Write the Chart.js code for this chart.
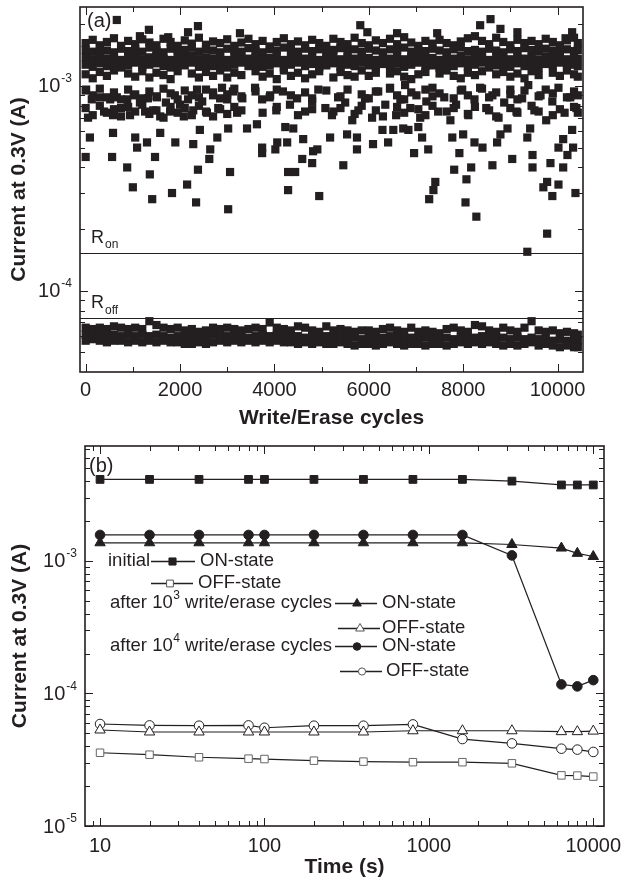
<!DOCTYPE html>
<html>
<head>
<meta charset="utf-8">
<title>Current at 0.3V</title>
<script src="https://cdn.jsdelivr.net/npm/chart.js@4.4.1/dist/chart.umd.min.js"></script>
<style>
  body { margin: 0; background: #fff; }
  .panel { position: absolute; left: 0; }
</style>
</head>
<body>
<div class="panel" style="top:0"><canvas id="chart_a" width="621" height="432"></canvas></div>
<div class="panel" style="top:432px"><canvas id="chart_b" width="621" height="450"></canvas></div>
<script>
// ---------- (a) endurance : current read at 0.3 V vs. write/erase cycle ----------
// the dense bands are read column by column (one column every 150 cycles), null = hole
const cycles = [0,150,300,450,600,750,900,1050,1200,1350,1500,1650,1800,1950,2100,2250,2400,2550,2700,2850,
  3000,3150,3300,3450,3600,3750,3900,4050,4200,4350,4500,4650,4800,4950,5100,5250,5400,5550,5700,5850,
  6000,6150,6300,6450,6600,6750,6900,7050,7200,7350,7500,7650,7800,7950,8100,8250,8400,8550,8700,8850,
  9000,9150,9300,9450,9600,9750,9900,10050,10200,10350,10430];

// ON state, upper band, mA
const onRow1 = [1.62,1.68,1.58,1.64,1.71,1.57,1.66,1.60,1.69,1.63, 1.58,1.70,1.64,1.57,1.67,1.61,1.72,1.59,1.65,1.62,
  1.69,1.57,1.63,1.70,1.60,1.66,1.56,1.64,1.71,1.60, 1.65,1.58,1.68,1.62,1.57,1.70,1.64,1.60,1.72,1.62,
  1.58,1.67,1.62,1.70,1.60,1.73,1.63,1.57,1.66,1.61, 1.68,1.62,1.58,1.65,1.71,1.75,1.66,1.60,1.72,1.64,
  1.58,1.68,1.62,1.66,1.60,1.70,1.64,1.58,1.67,1.72,1.62];
const onRow2 = [1.50,1.47,1.53,1.49,1.46,1.52,1.48,1.51,1.47,1.54, 1.49,1.46,1.52,1.48,1.50,1.54,1.47,1.51,1.49,1.46,
  1.52,1.50,1.47,1.53,1.48,1.46,1.51,1.49,1.54,1.50, 1.47,1.52,1.48,1.51,1.46,1.50,1.53,1.48,1.51,1.47,
  1.52,1.49,1.46,1.51,1.50,1.54,1.47,1.50,1.48,1.52, 1.49,1.46,1.51,1.54,1.48,1.50,1.47,1.52,1.49,1.46,
  1.51,1.48,1.53,1.50,1.47,1.52,1.49,1.46,1.51,1.48,1.50];
const onRow3 = [1.38,1.35,1.40,1.36,1.39,1.34,1.37,1.41,1.35,1.38, 1.40,1.36,1.34,1.39,1.37,1.41,1.35,1.38,1.36,1.40,
  1.34,1.38,1.41,1.36,1.39,1.35,1.37,1.40,1.34,1.38, 1.41,1.36,1.39,1.34,1.37,1.40,1.35,1.38,1.36,1.41,
  1.37,1.34,1.39,1.36,1.40,1.35,1.38,1.41,1.36,1.37, 1.34,1.39,1.36,1.40,1.35,1.38,1.41,1.34,1.37,1.39,
  1.35,1.40,1.36,1.38,1.34,1.39,1.37,1.41,1.35,1.38,1.36];
const onRow4 = [1.27,1.24,1.29,1.25,1.28,1.23,1.26,1.30,1.24,1.27, 1.29,1.25,1.23,1.28,1.26,1.30,1.24,1.27,1.25,1.29,
  1.23,1.27,1.30,1.25,1.28,1.24,1.26,1.29,1.23,1.27, 1.30,1.25,1.28,1.23,1.26,1.29,1.24,1.27,1.25,1.30,
  1.26,1.23,1.28,1.25,1.29,1.24,1.27,1.30,1.25,1.26, 1.23,1.28,1.25,1.29,1.24,1.27,1.30,1.23,1.26,1.28,
  1.24,1.29,1.25,1.27,1.23,1.28,1.26,1.30,1.24,1.27,1.25];
const onRow5 = [1.14,1.09,1.17,1.12,1.19,null,1.15,1.11,1.18,1.10, 1.16,1.13,1.08,1.18,null,1.15,1.10,1.17,1.12,1.19,
  1.10,1.16,1.13,null,1.18,1.11,1.15,1.08,1.19,1.12, 1.16,1.09,1.14,1.18,null,1.10,1.17,1.13,1.11,1.19,
  1.12,1.16,null,1.15,1.18,1.11,1.08,1.14,1.17,null, 1.15,1.19,1.12,1.09,1.16,1.13,1.18,null,1.14,1.17,
  1.11,1.15,1.09,1.18,1.13,null,1.16,1.12,1.19,1.14,1.11];
// ON state, lower (patchy) band, mA
const onRow6 = [0.95,0.90,0.97,0.88,0.93,0.86,0.96,0.91,0.87,0.94, 0.89,0.97,0.92,0.86,0.95,0.90,0.88,0.96,0.93,0.87,
  0.91,0.97,0.89,null,0.94,null,0.88,0.96,null,0.90, null,0.93,0.87,null,0.95,null,0.89,0.96,null,0.91,
  0.87,0.94,null,0.97,0.90,0.86,0.93,null,0.96,0.89, 0.92,null,0.87,0.95,0.90,null,0.97,0.88,0.93,null,
  0.91,0.86,0.95,null,0.89,0.96,0.92,null,0.88,0.94,0.90];
const onRow7 = [0.78,0.72,0.80,0.74,0.77,0.71,0.79,0.75,0.81,0.73, 0.76,0.70,0.79,0.74,0.78,0.72,0.80,0.75,0.71,0.77,
  0.73,0.79,0.76,null,null,0.74,null,0.79,null,null, 0.72,null,0.77,null,null,0.75,0.78,null,0.73,0.80,
  null,0.76,0.71,null,0.79,0.74,null,0.77,0.72,0.80, null,0.75,0.78,null,0.73,0.79,null,0.76,0.71,null,
  0.78,0.74,null,0.80,0.75,null,0.72,0.77,null,0.79,0.74];

// OFF state band, uA
const offRow1 = [66,65,66,65,67,66,65,66,65,71, 68,66,65,66,64,65,63,64,66,65, 66,65,64,65,66,65,70,66,65,64,
  67,66,64,63,67,64,65,64,63,64, 64,63,65,66,64,63,66,63,64,63, 62,65,66,64,63,68,67,64,63,66,
  64,63,66,71,64,63,64,62,63,62,61];
const offRow2 = [61,60,61,60,61,60,61,60,61,60, 61,60,59,60,59,60,59,60,61,60, 60,61,60,59,60,61,60,61,60,59,
  60,59,60,59,60,59,60,59,59,58, 59,58,59,60,59,58,59,58,59,58, 58,59,58,59,58,59,60,59,58,59,
  58,59,58,59,58,58,57,58,57,57,57];
const offRow3 = [57,58,57,56,57,57,56,57,56,57, 56,57,56,56,55,55,56,55,56,57, 56,57,56,57,56,57,56,57,56,56,
  55,56,55,56,55,55,56,55,54,55, 55,54,55,56,55,54,55,55,54,55, 55,54,55,56,55,56,55,56,55,54,
  55,54,55,56,54,55,54,53,54,53,53];

// ON state points lying away from the bands, mA
const onHighCycles  = [660,1150,1340,1750,2170,2380,3270,5820,5970,6600,7450,8360,8580,8790,9150,10170,10310];
const onHighCurrent = [2.10,1.75,1.88,1.73,1.83,1.96,1.81,1.98,1.83,1.81,1.81,1.98,2.12,1.90,1.83,1.71,1.83];

const onMidCycles = [10,50,130,300,390,520,580,660,750,880, 940,1020,1150,1260,1320,1430,1510,1580,1700,1790,
  1890,2000,2080,2170,2280,2360,2470,2570,2700,2810, 2890,3000,3120,3210,3320, 3590,3740,3910,4040,4180,
  4330,4480,4650,4800,4930, 5080,5220,5350,5500,5650,5780,5920,6070,6200,6350, 6450,6580,6670,6770,6880,
  7010,7090,7220,7350,7470, 7600,7730,7850,7980,8110,8240,8360,8490,8620,8750, 8870,9000,9130,9250,9380,
  9510,9640,9760,9890,10020, 10150,10270,10400];
const onMidCurrent = [0.96,0.70,0.86,0.88,0.75,0.86,0.72,0.88,0.78,0.86, 0.72,0.90,0.83,0.75,0.87,0.76,0.88,0.71,0.83,0.75,
  0.90,0.81,0.71,0.86,0.76,0.96,0.84,0.74,0.90,0.78, 0.98,0.86,0.94,0.74,0.87, 0.98,0.86,0.90,0.76,0.94,
  0.81,0.87,0.75,0.84,0.96, 0.78,0.72,0.88,0.83,0.68,0.76,0.87,0.70,0.94,0.81, 0.98,0.72,0.86,1.01,0.78,
  0.90,0.70,0.84,0.98,0.75, 0.88,0.68,0.81,0.96,0.72,0.86,0.98,0.78,0.90,0.70, 0.83,0.96,0.75,0.87,1.01,
  0.76,0.90,0.68,0.84,0.98, 0.74,0.88,0.78];

const onLowCycles = [0,90,560,580,880,1000,1050,1090,1300,1360, 1410,1470,1580,1830,1900,2150,2280,2340,2380,2420,
  2620,2640,2790,3020,3020,3060,3420,3630,3740,3740, 4020,4060,4230,4270,4290,4290,4400,4440,4590,4610,
  4800,4820,4910,4950,5180,5460,5540,5750,5750,6090, 6290,6410,6520,6730,6840,6960,7050,7130,7260,7410,
  7370,7280,7770,7920,8000,7810,8070,8050,8170,8240, 8280,8410,8620,8720,8790,8940,9040,9360,9420,9470,
  9470,9360,9780,9850,9780,9700,9890,10020,10120,10020, 10120,10210,10310,10330,10380];
const onLowCurrent = [0.45,0.56,0.45,0.59,0.40,0.32,0.56,0.50,0.53,0.37, 0.28,0.45,0.59,0.30,0.53,0.33,0.52,0.27,0.39,0.61,
  0.44,0.49,0.56,0.62,0.25,0.38,0.62,0.65,0.50,0.47, 0.49,0.53,0.63,0.53,0.38,0.31,0.62,0.38,0.44,0.55,
  0.42,0.48,0.49,0.29,0.56,0.41,0.58,0.56,0.49,0.52, 0.61,0.53,0.61,0.62,0.61,0.47,0.63,0.56,0.49,0.34,
  0.31,0.28,0.56,0.47,0.58,0.39,0.35,0.27,0.40,0.53, 0.23,0.50,0.41,0.53,0.58,0.62,0.44,0.56,0.62,0.46,
  0.40,0.155,0.19,0.42,0.34,0.32,0.29,0.33,0.40,0.50, 0.55,0.46,0.61,0.50,0.30];

const cycleTicks = [0, 2000, 4000, 6000, 8000, 10000];
const rOn = 1.53e-4;    // A
const rOff = 7.38e-5;   // A

// ---------- (b) retention at 0.3 V ----------
const times = [10, 20, 40, 80, 100, 200, 400, 800, 1600, 3200, 6400, 8000, 10000];
const initialOn  = [4.12e-3,4.12e-3,4.12e-3,4.12e-3,4.12e-3,4.12e-3,4.12e-3,4.12e-3,4.12e-3,4.0e-3,3.74e-3,3.74e-3,3.74e-3];
const initialOff = [3.57e-5,3.45e-5,3.30e-5,3.22e-5,3.20e-5,3.11e-5,3.06e-5,3.03e-5,3.03e-5,2.97e-5,2.41e-5,2.40e-5,2.36e-5];
const after1e3On  = [1.37e-3,1.37e-3,1.37e-3,1.37e-3,1.37e-3,1.37e-3,1.37e-3,1.37e-3,1.37e-3,1.33e-3,1.25e-3,1.14e-3,1.08e-3];
const after1e3Off = [5.30e-5,5.12e-5,5.12e-5,5.12e-5,5.12e-5,5.12e-5,5.12e-5,5.23e-5,5.23e-5,5.23e-5,5.15e-5,5.15e-5,5.20e-5];
const after1e4On  = [1.57e-3,1.57e-3,1.57e-3,1.57e-3,1.57e-3,1.57e-3,1.57e-3,1.57e-3,1.57e-3,1.10e-3,1.17e-4,1.13e-4,1.26e-4];
const after1e4Off = [5.88e-5,5.74e-5,5.71e-5,5.74e-5,5.51e-5,5.71e-5,5.71e-5,5.84e-5,4.53e-5,4.20e-5,3.83e-5,3.77e-5,3.62e-5];
const timeTicks = [10, 100, 1000, 10000];


const INK = '#231f20';
const FONT = "'Liberation Sans', Arial, sans-serif";
Chart.defaults.font.family = FONT;
Chart.defaults.color = INK;

function bandPoints(rows, unit) {
  const pts = [];
  rows.forEach(row => row.forEach((v, i) => {
    if (v !== null) pts.push({ x: cycles[i], y: v * unit });
  }));
  return pts;
}
function pairs(xs, ys, unit) {
  return xs.map((x, i) => ({ x: x, y: ys[i] * unit }));
}
function series(values) {
  return times.map((t, i) => ({ x: t, y: values[i] }));
}

function line(ctx, x1, y1, x2, y2) {
  ctx.beginPath(); ctx.moveTo(x1, y1); ctx.lineTo(x2, y2); ctx.stroke();
}
function logTicks(min, max) {
  const out = [];
  for (let e = Math.floor(Math.log10(min)); e <= Math.ceil(Math.log10(max)); e++) {
    for (let k = 1; k <= 9; k++) {
      const v = k * Math.pow(10, e);
      if (v >= min * 0.9999 && v <= max * 1.0001) out.push({ v: v, major: k === 1 });
    }
  }
  return out;
}
// inward ticks on all four sides + the box
function drawFrame(chart, xTicks, yTicks) {
  const { ctx, chartArea: a, scales } = chart;
  ctx.save();
  ctx.strokeStyle = INK;
  ctx.lineWidth = 1;
  xTicks.forEach(t => {
    const px = Math.round(scales.x.getPixelForValue(t.v)) + 0.5;
    const len = t.major ? 8 : 5;
    line(ctx, px, a.bottom, px, a.bottom - len);
    line(ctx, px, a.top, px, a.top + len);
  });
  yTicks.forEach(t => {
    const py = Math.round(scales.y.getPixelForValue(t.v)) + 0.5;
    const len = t.major ? 8 : 5;
    line(ctx, a.left, py, a.left + len, py);
    line(ctx, a.right, py, a.right - len, py);
  });
  ctx.lineWidth = 1.6;
  ctx.strokeRect(a.left, a.top, a.right - a.left, a.bottom - a.top);
  ctx.restore();
}
// 10^n labels with a raised exponent
function drawPowerLabels(chart, exps) {
  const { ctx, chartArea: a, scales } = chart;
  ctx.save();
  ctx.fillStyle = INK;
  ctx.textBaseline = 'middle';
  ctx.textAlign = 'left';
  exps.forEach(e => {
    const y = scales.y.getPixelForValue(Math.pow(10, e));
    const sup = String(e);
    ctx.font = '12px ' + FONT;
    const ws = ctx.measureText(sup).width;
    ctx.font = '20px ' + FONT;
    const wb = ctx.measureText('10').width;
    const right = a.left - 8;
    ctx.fillText('10', right - ws - 1 - wb, y + 1);
    ctx.font = '12px ' + FONT;
    ctx.fillText(sup, right - ws, y - 7);
  });
  ctx.restore();
}
function marker(ctx, style, x, y, r, fill, stroke) {
  ctx.beginPath();
  if (style === 'rect') {
    const s = r * Math.SQRT1_2;
    ctx.rect(x - s, y - s, 2 * s, 2 * s);
  } else if (style === 'circle') {
    ctx.arc(x, y, r, 0, Math.PI * 2);
  } else {
    ctx.moveTo(x, y - r);
    ctx.lineTo(x + r * 0.866, y + r / 2);
    ctx.lineTo(x - r * 0.866, y + r / 2);
    ctx.closePath();
  }
  ctx.fillStyle = fill; ctx.fill();
  ctx.strokeStyle = stroke; ctx.lineWidth = 1; ctx.stroke();
}
function fixBox(size) {
  return function (s) {
    if (s.isHorizontal()) s.height = size; else s.width = size;
    s.paddingLeft = s.paddingRight = s.paddingTop = s.paddingBottom = 0;
  };
}

// ---------- chart (a) ----------
const panelA = {
  id: 'panelA',
  beforeDatasetsDraw(chart) {
    const { ctx, chartArea: a, scales: { y } } = chart;
    ctx.save();
    ctx.strokeStyle = INK;
    ctx.lineWidth = 1.2;
    [rOn, rOff].forEach(v => {
      const py = Math.round(y.getPixelForValue(v)) + 0.5;
      line(ctx, a.left, py, a.right, py);
    });
    ctx.restore();
  },
  afterDraw(chart) {
    const { ctx, chartArea: a, scales: { y } } = chart;
    const xt = [];
    for (let v = 0; v <= 10000; v += 1000) xt.push({ v: v, major: v % 2000 === 0 });
    drawFrame(chart, xt, logTicks(y.min, y.max));
    drawPowerLabels(chart, [-3, -4]);

    ctx.save();
    ctx.fillStyle = INK;
    ctx.textBaseline = 'middle';
    ctx.textAlign = 'left';
    ctx.font = '20px ' + FONT;
    ctx.fillText('(a)', a.left + 7, a.top + 14);
    [[rOn, 'on', 8], [rOff, 'off', 7]].forEach(([v, sub, dy]) => {
      const py = y.getPixelForValue(v);
      ctx.font = '18px ' + FONT;
      ctx.fillText('R', a.left + 11, py - 15);
      const w = ctx.measureText('R').width;
      ctx.font = '12px ' + FONT;
      ctx.fillText(sub, a.left + 12 + w, py - dy);
    });
    ctx.restore();
  }
};

const squareStyle = {
  pointStyle: 'rect', pointRadius: 5.8, pointHoverRadius: 5.8,
  backgroundColor: INK, pointBackgroundColor: INK, borderWidth: 0, pointBorderWidth: 0
};

new Chart(document.getElementById('chart_a'), {
  type: 'scatter',
  data: {
    datasets: [
      { label: 'OFF', data: bandPoints([offRow1, offRow2, offRow3], 1e-6) },
      { label: 'ON band', data: bandPoints([onRow1, onRow2, onRow3, onRow4, onRow5, onRow6, onRow7], 1e-3) },
      { label: 'ON high', data: pairs(onHighCycles, onHighCurrent, 1e-3) },
      { label: 'ON middle', data: pairs(onMidCycles, onMidCurrent, 1e-3) },
      { label: 'ON low', data: pairs(onLowCycles, onLowCurrent, 1e-3) }
    ].map(d => Object.assign({}, squareStyle, d))
  },
  options: {
    responsive: false,
    animation: false,
    events: [],
    layout: { padding: { left: 0, right: 38, top: 7, bottom: 0 } },
    plugins: { legend: { display: false }, tooltip: { enabled: false } },
    scales: {
      x: {
        type: 'linear', min: -120, max: 10540, bounds: 'data',
        afterBuildTicks: s => { s.ticks = cycleTicks.map(v => ({ value: v })); },
        afterFit: fixBox(60),
        grid: { display: false, drawTicks: false },
        border: { display: false },
        ticks: { font: { size: 20 }, color: INK, padding: 6, maxRotation: 0, autoSkip: false, callback: v => String(v) },
        title: { display: true, text: 'Write/Erase cycles', color: INK, font: { size: 21, weight: 'bold' }, padding: { top: 0, bottom: 1 } }
      },
      y: {
        type: 'logarithmic', min: 4.01e-5, max: 2.43e-3, bounds: 'data',
        afterFit: fixBox(80),
        grid: { display: false, drawTicks: false },
        border: { display: false },
        ticks: { display: false },
        title: { display: true, text: 'Current at 0.3V (A)', color: INK, font: { size: 21, weight: 'bold' }, padding: { top: 7, bottom: 0 } }
      }
    }
  },
  plugins: [panelA]
});

// ---------- chart (b) ----------
const panelB = {
  id: 'panelB',
  afterDraw(chart) {
    const { ctx, chartArea: a, scales: { x, y } } = chart;
    drawFrame(chart, logTicks(x.min, x.max), logTicks(y.min, y.max));
    drawPowerLabels(chart, [-3, -4, -5]);

    ctx.save();
    ctx.fillStyle = INK;
    ctx.textBaseline = 'middle';
    ctx.textAlign = 'left';
    ctx.font = '20px ' + FONT;
    ctx.fillText('(b)', a.left + 4, a.top + 20);

    const rows = [
      { y: 129, head: ['initial'], hx: 108, dash: [151, 195], mx: 172.5, style: 'rect', r: 5, open: false, text: 'ON-state', tx: 200 },
      { y: 151, head: null, dash: [151, 193], mx: 170, style: 'rect', r: 4.8, open: true, text: 'OFF-state', tx: 198 },
      { y: 171, head: ['after 10', '3', ' write/erase cycles'], hx: 110, dash: [335, 377], mx: 357, style: 'triangle', r: 5, open: false, text: 'ON-state', tx: 382 },
      { y: 196, head: null, dash: [338, 380], mx: 360, style: 'triangle', r: 5, open: true, text: 'OFF-state', tx: 382 },
      { y: 214, head: ['after 10', '4', ' write/erase cycles'], hx: 110, dash: [335, 377], mx: 357, style: 'circle', r: 3.8, open: false, text: 'ON-state', tx: 382 },
      { y: 239, head: null, dash: [340, 382], mx: 362, style: 'circle', r: 3.6, open: true, text: 'OFF-state', tx: 386 }
    ];
    rows.forEach(row => {
      ctx.fillStyle = INK;
      if (row.head) {
        let hx = row.hx;
        row.head.forEach((part, i) => {
          const isSup = i === 1;
          ctx.font = (isSup ? '12px ' : '18.5px ') + FONT;
          ctx.fillText(part, hx, isSup ? row.y - 7 : row.y);
          hx += ctx.measureText(part).width + (isSup ? 0 : 0.5);
        });
      }
      ctx.strokeStyle = INK;
      ctx.lineWidth = 1.5;
      line(ctx, row.dash[0], row.y + 0.5, row.dash[1], row.y + 0.5);
      marker(ctx, row.style, row.mx, row.y + 0.5, row.r, row.open ? '#fff' : INK, row.open ? '#555' : INK);
      ctx.fillStyle = INK;
      ctx.font = '18.5px ' + FONT;
      ctx.fillText(row.text, row.tx, row.y);
    });
    ctx.restore();
  }
};

const lineBase = { borderColor: INK, borderWidth: 1.2, tension: 0, fill: false, pointBorderWidth: 1 };

new Chart(document.getElementById('chart_b'), {
  type: 'line',
  data: {
    datasets: [
      Object.assign({}, lineBase, { label: 'initial OFF-state', data: series(initialOff), pointStyle: 'rect', pointRadius: 5.3, pointBackgroundColor: '#fff', pointBorderColor: '#666' }),
      Object.assign({}, lineBase, { label: 'after 10^3 OFF-state', data: series(after1e3Off), pointStyle: 'triangle', pointRadius: 6, pointBackgroundColor: '#fff', pointBorderColor: INK }),
      Object.assign({}, lineBase, { label: 'after 10^4 OFF-state', data: series(after1e4Off), pointStyle: 'circle', pointRadius: 4.8, pointBackgroundColor: '#fff', pointBorderColor: INK }),
      Object.assign({}, lineBase, { label: 'initial ON-state', data: series(initialOn), pointStyle: 'rect', pointRadius: 5.5, pointBackgroundColor: INK, pointBorderColor: INK }),
      Object.assign({}, lineBase, { label: 'after 10^3 ON-state', data: series(after1e3On), pointStyle: 'triangle', pointRadius: 6, pointBackgroundColor: INK, pointBorderColor: INK }),
      Object.assign({}, lineBase, { label: 'after 10^4 ON-state', data: series(after1e4On), pointStyle: 'circle', pointRadius: 4.8, pointBackgroundColor: INK, pointBorderColor: INK })
    ]
  },
  options: {
    responsive: false,
    animation: false,
    events: [],
    layout: { padding: { left: 0, right: 17, top: 14, bottom: 0 } },
    plugins: { legend: { display: false }, tooltip: { enabled: false } },
    scales: {
      x: {
        type: 'logarithmic', min: 8.1, max: 11620, bounds: 'data',
        afterBuildTicks: s => { s.ticks = timeTicks.map(v => ({ value: v })); },
        afterFit: fixBox(56),
        grid: { display: false, drawTicks: false },
        border: { display: false },
        ticks: { font: { size: 20 }, color: INK, padding: 8, maxRotation: 0, autoSkip: false, callback: v => String(v) },
        title: { display: true, text: 'Time (s)', color: INK, font: { size: 21, weight: 'bold' }, padding: { top: 0, bottom: 2 } }
      },
      y: {
        type: 'logarithmic', min: 1e-5, max: 7.36e-3, bounds: 'data',
        afterFit: fixBox(85),
        grid: { display: false, drawTicks: false },
        border: { display: false },
        ticks: { display: false },
        title: { display: true, text: 'Current at 0.3V (A)', color: INK, font: { size: 21, weight: 'bold' }, padding: { top: 8, bottom: 0 } }
      }
    }
  },
  plugins: [panelB]
});
</script>
</body>
</html>
